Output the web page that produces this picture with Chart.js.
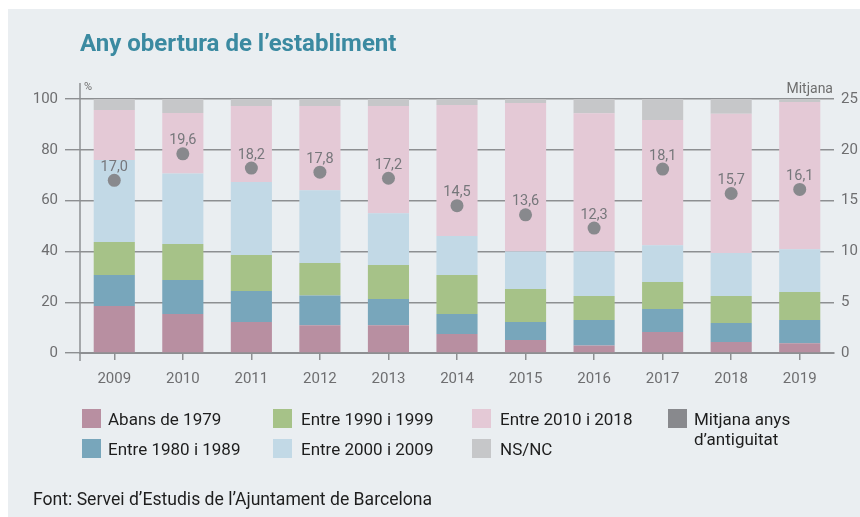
<!DOCTYPE html>
<html>
<head>
<meta charset="utf-8">
<script src="https://cdn.jsdelivr.net/npm/chart.js@4"></script>
<style>
  html, body { margin: 0; padding: 0; background: #ffffff; }
  #wrap { position: relative; width: 860px; height: 517px; overflow: hidden; }
  #panel { position: absolute; left: 8px; top: 9px; width: 852px; height: 508px; background: #eaeef1; }
  #c { position: absolute; left: 0; top: 0; }
  .txt { position: absolute; font-family: Roboto, "Liberation Sans", sans-serif; white-space: nowrap; }
  #title { left: 80px; top: 28px; font-family: "Liberation Sans Narrow", Roboto, sans-serif; font-weight: bold; font-size: 24px; color: #3b8aa1; line-height: 30px; }
  .leg { position: absolute; font-family: Roboto, sans-serif; font-size: 17px; color: #1e1e1e; line-height: 20px; }
  .sw { position: absolute; width: 19px; height: 19px; }
</style>
</head>
<body>
<div id="wrap">
  <div id="panel"></div>
  <canvas id="c" width="860" height="517"></canvas>
  <div id="title" class="txt">Any obertura de l’establiment</div>
  <div class="txt" style="left:84px; top:81px; font-size:11px; line-height:12px; color:#6e6e6e;">%</div>
  <div class="txt" style="right:27px; top:80px; font-size:14px; line-height:16px; color:#6e6e6e;">Mitjana</div>
  <div id="legend"></div>
  <div class="txt" style="left:33px; top:489px; font-size:17.6px; line-height:21px; color:#1e1e1e;">Font: Servei d’Estudis de l’Ajuntament de Barcelona</div>
</div>
<script>
const years = ['2009','2010','2011','2012','2013','2014','2015','2016','2017','2018','2019'];
const abans1979 = [18.5, 15.4, 12.2, 10.9, 10.9, 7.5, 5.1, 3.0, 8.3, 4.3, 3.8];
const entre1980_1989 = [12.2, 13.3, 12.2, 11.7, 10.4, 7.9, 7.1, 10.0, 9.0, 7.5, 9.2];
const entre1990_1999 = [13.0, 14.2, 14.2, 12.8, 13.3, 15.3, 13.0, 9.4, 10.7, 10.6, 11.0];
const entre2000_2009 = [32.3, 27.8, 28.7, 28.7, 20.4, 15.4, 14.8, 17.6, 14.4, 17.0, 16.8];
const entre2010_2018 = [19.7, 23.8, 29.9, 33.1, 42.2, 51.5, 58.4, 54.4, 49.3, 54.8, 58.0];
const nsnc = [4.3, 5.5, 2.8, 2.8, 2.8, 2.4, 1.6, 5.6, 8.3, 5.8, 1.2];
const mitjana = [17.0, 19.6, 18.2, 17.8, 17.2, 14.5, 13.6, 12.3, 18.1, 15.7, 16.1];
const pctTicks = [0, 20, 40, 60, 80, 100];
const mitjanaTicks = [0, 5, 10, 15, 20, 25];

const seriesNames = ['Abans de 1979','Entre 1980 i 1989','Entre 1990 i 1999','Entre 2000 i 2009','Entre 2010 i 2018','NS/NC'];
const seriesData = [abans1979, entre1980_1989, entre1990_1999, entre2000_2009, entre2010_2018, nsnc];
const seriesColors = ['#b88fa1','#78a6bb','#a6c288','#c2d9e6','#e4c9d6','#c6c7c9'];
const dotColor = '#88898d';
const mitjanaName = 'Mitjana anys d’antiguitat';

// HTML legend (layout only)
const legendLayout = [
  {i:0, sx:82, tx:108, y:409},
  {i:1, sx:82, tx:108, y:439},
  {i:2, sx:273, tx:301, y:409},
  {i:3, sx:273, tx:301, y:439},
  {i:4, sx:472, tx:500, y:409},
  {i:5, sx:472, tx:500, y:439}
];
const leg = document.getElementById('legend');
legendLayout.forEach(p => {
  const s = document.createElement('div'); s.className = 'sw';
  s.style.left = p.sx + 'px'; s.style.top = p.y + 'px'; s.style.background = seriesColors[p.i];
  leg.appendChild(s);
  const t = document.createElement('div'); t.className = 'leg';
  t.style.left = p.tx + 'px'; t.style.top = (p.y) + 'px'; t.textContent = seriesNames[p.i];
  leg.appendChild(t);
});
{
  const s = document.createElement('div'); s.className = 'sw';
  s.style.left = '668px'; s.style.top = '409px'; s.style.background = dotColor;
  leg.appendChild(s);
  const t = document.createElement('div'); t.className = 'leg';
  t.style.left = '694px'; t.style.top = '409px';
  t.innerHTML = 'Mitjana anys<br>d’antiguitat';
  leg.appendChild(t);
}

const axisColor = '#8d8f92';
const tickColor = '#6e6e70';

const extraAxis = {
  id: 'extraAxis',
  afterDraw(chart) {
    const {ctx, chartArea} = chart;
    ctx.save();
    ctx.strokeStyle = axisColor;
    ctx.lineWidth = 1.5;
    ctx.beginPath();
    ctx.moveTo(chartArea.left, chartArea.top - 16);
    ctx.lineTo(chartArea.left, chartArea.bottom + 8);
    ctx.stroke();
    ctx.restore();
  }
};

const dotLabels = {
  id: 'dotLabels',
  afterDatasetsDraw(chart) {
    const {ctx} = chart;
    chart.data.datasets.forEach((ds, di) => {
      if (ds.type !== 'line') return;
      const meta = chart.getDatasetMeta(di);
      ctx.save();
      ctx.font = '14.5px Roboto, sans-serif';
      ctx.fillStyle = '#76777b';
      ctx.textAlign = 'center';
      ctx.textBaseline = 'middle';
      meta.data.forEach((pt, i) => {
        ctx.fillText(ds.data[i].toFixed(1).replace('.', ','), pt.x, pt.y - 13);
      });
      ctx.restore();
    });
  }
};

const datasets = seriesNames.map((n, k) => ({
  type: 'bar',
  label: n,
  data: seriesData[k],
  backgroundColor: seriesColors[k],
  borderWidth: 0,
  yAxisID: 'y',
  barPercentage: 0.6,
  categoryPercentage: 1.0,
  order: 2
}));
datasets.push({
  type: 'line',
  label: mitjanaName,
  data: mitjana,
  yAxisID: 'y2',
  showLine: false,
  pointRadius: 6.5,
  pointBackgroundColor: dotColor,
  pointBorderWidth: 0,
  pointHoverRadius: 6.5,
  order: 0
});

new Chart(document.getElementById('c'), {
  data: { labels: years, datasets },
  options: {
    responsive: false,
    animation: false,
    events: [],
    layout: { padding: { top: 99, left: 0, right: 0, bottom: 0 } },
    plugins: { legend: { display: false }, tooltip: { enabled: false } },
    scales: {
      x: {
        stacked: true,
        grid: { offset: false, drawOnChartArea: false, drawTicks: true, tickLength: 7, color: axisColor, lineWidth: 1.5 },
        border: { display: true, color: axisColor, width: 2 },
        ticks: { color: tickColor, font: { family: 'Roboto', size: 15 }, padding: 10, maxRotation: 0 },
        afterFit(s) { s.height = 164; }
      },
      y: {
        stacked: true,
        position: 'left',
        min: 0, max: 100,
        afterBuildTicks(s) { s.ticks = pctTicks.map(v => ({value: v})); },
        grid: { color: axisColor, lineWidth: 1.4, tickLength: 15 },
        border: { display: false },
        ticks: { color: tickColor, font: { family: 'Roboto', size: 15 }, padding: 7 },
        afterFit(s) { s.width = 80; }
      },
      y2: {
        position: 'right',
        min: 0, max: 25,
        afterBuildTicks(s) { s.ticks = mitjanaTicks.map(v => ({value: v})); },
        grid: { drawOnChartArea: false, drawTicks: false },
        border: { display: false },
        ticks: { color: tickColor, font: { family: 'Roboto', size: 15 }, padding: 7 },
        afterFit(s) { s.width = 26; }
      }
    }
  },
  plugins: [extraAxis, dotLabels]
});
</script>
</body>
</html>
